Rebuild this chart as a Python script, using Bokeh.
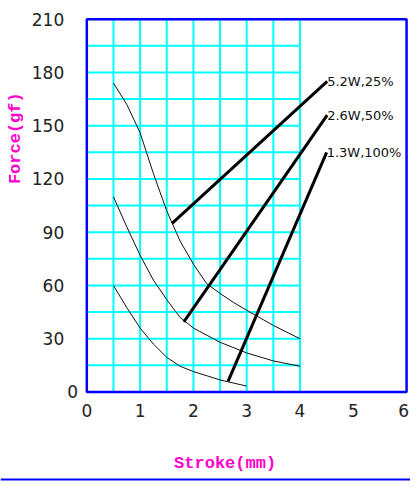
import numpy as np
from bokeh.plotting import figure
from bokeh.models import Range1d
from bokeh.core.properties import value
from bokeh.embed import file_html
from bokeh.resources import INLINE

# ---------------- data ----------------
x_ticks = [0, 1, 2, 3, 4, 5, 6]
y_ticks = [0, 30, 60, 90, 120, 150, 180, 210]

# force-stroke curves (stroke mm, force gf)
c25_x = [0.5, 0.75, 1.0, 1.25, 1.5, 1.75, 2.0, 2.25, 2.5, 2.75, 3.0, 3.5, 4.0]
c25_y = [174, 162, 146, 123, 102, 85, 72, 61, 55.5, 50.5, 46, 37.5, 30]

c50_x = [0.5, 0.75, 1.0, 1.25, 1.5, 1.75, 2.0, 2.5, 3.0, 3.5, 4.0]
c50_y = [110, 93, 77, 63, 52, 42, 36, 28, 22, 17.5, 14.5]

c100_x = [0.5, 0.75, 1.0, 1.25, 1.5, 1.75, 2.0, 2.5, 3.0]
c100_y = [60, 47.5, 36, 27, 19.5, 14.5, 11.5, 6.8, 3.3]

# leader lines and their labels
lead_labels = ["5.2W,25%", "2.6W,50%", "1.3W,100%"]
lead_x0 = [1.60, 1.82, 2.65]
lead_y0 = [95, 39.5, 6]
lead_x1 = [4.51, 4.51, 4.50]
lead_y1 = [175, 156, 135]

x_title = "Stroke(mm)"
y_title = "Force(gf)"

# ---------------- layout ----------------
W, H = 410, 481
REF_W, REF_H = 418, 489
sx, sy = W / REF_W, H / REF_H
L, R, T, B = 88 * sx, 414 * sx, 19 * sy, 398 * sy   # plot box in screen px
XMIN, XMAX, YMIN, YMAX = 0, 6, 0, 210
xu = (XMAX - XMIN) / (R - L)
yu = (YMAX - YMIN) / (B - T)
x_start = XMIN - L * xu
x_end = XMAX + (W - R) * xu
y_end = YMAX + T * yu
y_start = YMIN - (H - B) * yu


def rx(ref_px):
    return x_start + ref_px * sx * xu


def ry(ref_py):
    return y_end - ref_py * sy * yu


p = figure(width=W, height=H, x_range=Range1d(x_start, x_end),
           y_range=Range1d(y_start, y_end), x_axis_type=None, y_axis_type=None,
           output_backend="svg", toolbar_location=None, min_border=0,
           outline_line_color=None)
p.background_fill_color = "white"
p.border_fill_color = "white"

CYAN = "#00FFFF"
BLUE = "#0000FF"
MAG = "#FF00CC"
TXT = "#222222"
THIN = value("DejaVu Sans")

# grid (covers stroke 0..4 only)
gx = np.arange(0.5, 4.01, 0.5)
p.segment(x0=gx, y0=[YMIN] * len(gx), x1=gx, y1=[YMAX] * len(gx),
          line_color=CYAN, line_width=2)
gy = np.arange(15, 196, 15)
p.segment(x0=[XMIN] * len(gy), y0=gy, x1=[4] * len(gy), y1=gy,
          line_color=CYAN, line_width=2)

# plot box
p.quad(left=[XMIN], right=[XMAX], bottom=[YMIN], top=[YMAX],
       fill_color=None, line_color=BLUE, line_width=2.5)

# curves
for cx, cy in [(c25_x, c25_y), (c50_x, c50_y), (c100_x, c100_y)]:
    p.line(cx, cy, line_color="#111111", line_width=1)

# leader lines
p.segment(x0=lead_x0, y0=lead_y0, x1=lead_x1, y1=lead_y1,
          line_color="black", line_width=3)
p.text(x=lead_x1, y=lead_y1, text=lead_labels, text_font=THIN,
       text_font_size="13px", text_color="#111111", text_align="left",
       text_baseline="alphabetic")

# tick labels
ylab_x = [rx(79) if v == 0 else rx(65) for v in y_ticks]
p.text(x=ylab_x, y=y_ticks, text=[str(v) for v in y_ticks],
       text_font=THIN, text_font_size="17px",
       text_color=TXT, text_align="right", text_baseline="middle")
# keep the last label inside the canvas edge
xlab_x = [min(v, rx(411) - XMIN) if v == x_ticks[-1] else v for v in x_ticks]
p.text(x=xlab_x, y=[ry(417)] * len(x_ticks), text=[str(v) for v in x_ticks],
       text_font=THIN, text_font_size="17px",
       text_color=TXT, text_align="center", text_baseline="middle")

# bottom rule
p.segment(x0=[x_start], y0=[ry(487)], x1=[x_end], y1=[ry(487)],
          line_color=BLUE, line_width=2)

# axis titles
p.text(x=[rx(229)], y=[ry(471)], text=[x_title],
       text_font=value("Liberation Mono"), text_font_style="bold",
       text_font_size="17px", text_color=MAG, text_align="center",
       text_baseline="middle")
p.text(x=[rx(15.5)], y=[ry(140)], text=[y_title], angle=np.pi / 2,
       text_font=value("Liberation Mono"), text_font_style="bold",
       text_font_size="17px", text_color=MAG, text_align="center",
       text_baseline="middle")

open("out.html", "w").write(file_html(p, INLINE))
